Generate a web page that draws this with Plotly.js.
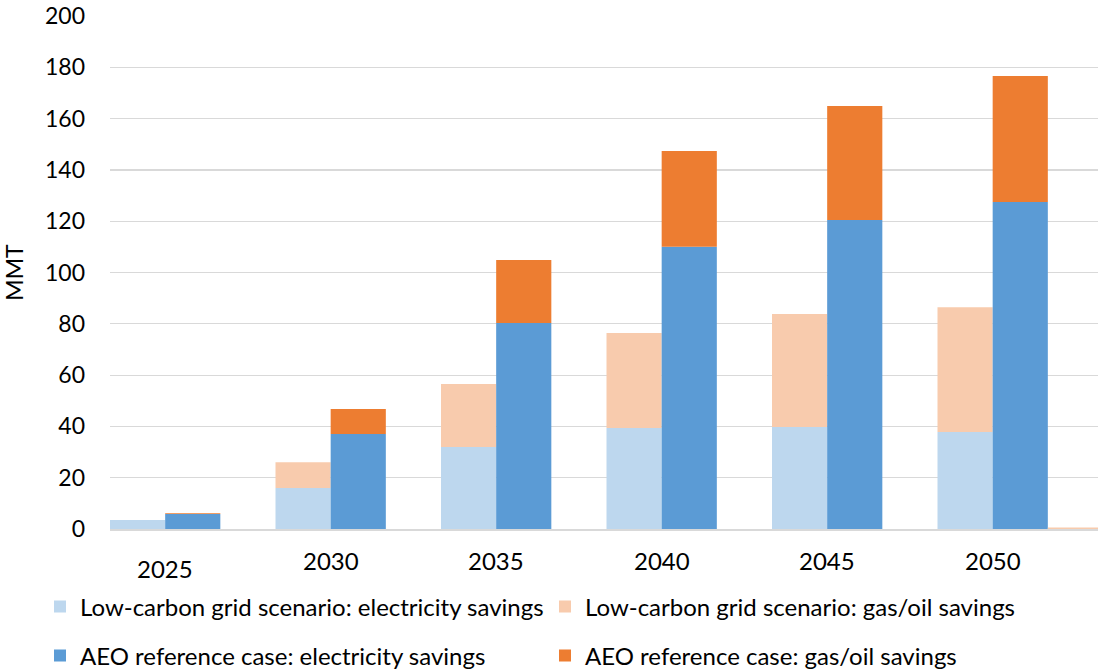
<!DOCTYPE html>
<html><head><meta charset="utf-8">
<script src="https://cdn.plot.ly/plotly-3.0.1.min.js"></script>
<style>html,body{margin:0;padding:0;background:#fff}</style>
</head><body><div id="chart" style="width:1098px;height:670px"></div>
<script>
const years = ['2025','2030','2035','2040','2045','2050'];
const lowElec = [3.5, 16, 32, 39.4, 39.8, 37.8];
const lowGas = [0, 10, 24.5, 37, 44, 48.7];
const aeoElec = [5.8, 37, 80.3, 110, 120.5, 127.5];
const aeoGas = [0.3, 9.8, 24.6, 37.4, 44.4, 49.1];
const extraYears = ['2050'];
const extraGas = [0.6];
const yTicks = [0,20,40,60,80,100,120,140,160,180,200];

const FONT = 'Lato, "Open Sans", sans-serif';
const W = 1/3;
const C = {lowE:'#BDD7EE', lowG:'#F8CBAD', aeoE:'#5B9BD5', aeoG:'#ED7D31'};

const traces = [
  {type:'bar', name:'Low-carbon grid scenario: electricity savings', x:years, y:lowElec,
   offset:-W, width:W, marker:{color:C.lowE, line:{width:0}}, legend:'legend'},
  {type:'bar', name:'Low-carbon grid scenario: gas/oil savings', x:years, y:lowGas, base:lowElec,
   offset:-W, width:W, marker:{color:C.lowG, line:{width:0}}, legend:'legend2'},
  {type:'bar', name:'AEO reference case: electricity savings', x:years, y:aeoElec,
   offset:0, width:W, marker:{color:C.aeoE, line:{width:0}}, legend:'legend3'},
  {type:'bar', name:'AEO reference case: gas/oil savings', x:years, y:aeoGas, base:aeoElec,
   offset:0, width:W, marker:{color:C.aeoG, line:{width:0}}, legend:'legend4'},
  {type:'bar', name:'extra', x:extraYears, y:extraGas, offset:W, width:W,
   marker:{color:C.lowG, line:{width:0}}, showlegend:false}
];

const annotations = years.map((yr,i)=>({
  x:i, y:0, xref:'x', yref:'y', text:yr, showarrow:false,
  yanchor:'middle', xanchor:'center', yshift: i===0 ? -39 : -31,
  font:{family:FONT, size:24, color:'#000'}
}));

function leg(xpx, ypx){
  return {orientation:'h', xref:'container', yref:'container', xanchor:'left', yanchor:'middle',
    x:xpx/1098, y:1-ypx/670,
    font:{family:FONT, size:24, color:'#000'},
    bgcolor:'rgba(0,0,0,0)', itemclick:false};
}

const layout = {
  width:1098, height:670,
  margin:{l:110, r:0, t:16, b:141},
  paper_bgcolor:'#fff', plot_bgcolor:'#fff',
  barmode:'overlay',
  font:{family:FONT, size:22, color:'#000'},
  xaxis:{type:'category', range:[-1/3, -1/3 + 988/165.5], showticklabels:false, ticks:'',
    showgrid:false, showline:true, linecolor:'#D9D9D9', linewidth:1.5, zeroline:false, fixedrange:true},
  yaxis:{range:[0,200], tickvals:yTicks, showgrid:true, gridcolor:'#D9D9D9', gridwidth:1.2,
    zeroline:false, showline:false, ticks:'', ticklabelstandoff:24,
    tickfont:{family:FONT, size:23, color:'#000'},
    title:{text:'MMT', font:{family:FONT, size:23, color:'#000'}, standoff:14}},
  legend:leg(40, 607),
  legend2:leg(545, 607),
  legend3:leg(40, 656),
  legend4:leg(545, 656),
  annotations:annotations,
  showlegend:true
};

Plotly.newPlot('chart', traces, layout, {displayModeBar:false, staticPlot:true});
</script>
</body></html>
